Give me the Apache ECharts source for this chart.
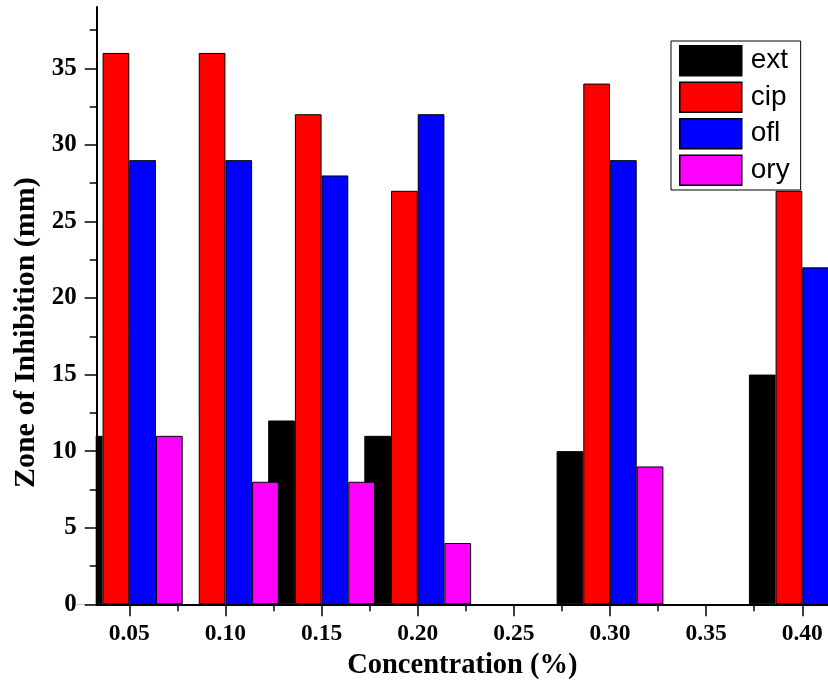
<!DOCTYPE html>
<html>
<head>
<meta charset="utf-8">
<script src="https://cdn.jsdelivr.net/npm/echarts@6/dist/echarts.min.js"></script>
<style>
html,body{margin:0;padding:0;background:#fff;}
#chart{width:828px;height:698px;}
</style>
</head>
<body>
<div id="chart"></div>
<script>
// ---- data ----
const seriesNames = ['ext', 'cip', 'ofl', 'ory'];
const concentrations = [0.05, 0.10, 0.15, 0.20, 0.30, 0.40];
const ext = [11, null, 12, 11, 10, 15];
const cip = [36, 36, 32, 27, 34, 27];
const ofl = [29, 29, 28, 32, 29, 22];
const ory = [11, 8, 8, 4, 9, null];
const xTickValues = [0.05, 0.10, 0.15, 0.20, 0.25, 0.30, 0.35, 0.40];
const xMinorTickValues = [0.075, 0.125, 0.175, 0.225, 0.275, 0.325, 0.375];
const yTickValues = [0, 5, 10, 15, 20, 25, 30, 35];
const yMinorTickValues = [2.5, 7.5, 12.5, 17.5, 22.5, 27.5, 32.5, 37.5];
const xLabel = 'Concentration (%)';
const yLabel = 'Zone of Inhibition (mm)';

const colors = ['#000000', '#ff0000', '#0000ff', '#ff00ff'];
const values = [ext, cip, ofl, ory];

function pairs(arr) {
  const out = [];
  concentrations.forEach((x, i) => { if (arr[i] !== null) out.push([x, arr[i]]); });
  return out;
}

const serif = '"Liberation Serif", "Times New Roman", serif';
const X_MIN = 0.03305, X_MAX = 0.41337;
const Y_MIN = 0, Y_MAX = 39;

const chart = echarts.init(document.getElementById('chart'), null, {renderer: 'canvas'});
chart.setOption({
  animation: false,
  backgroundColor: '#ffffff',
  grid: {left: 96.7, right: 0, top: 7, bottom: 93.7, containLabel: false},
  legend: {
    show: true,
    data: seriesNames,
    orient: 'vertical',
    left: 671, top: 41,
    icon: 'rect',
    itemWidth: 62, itemHeight: 30, itemGap: 5,
    padding: [4, 11, 4, 8],
    backgroundColor: '#ffffff',
    borderColor: '#000000', borderWidth: 1, borderRadius: 0,
    selectedMode: false,
    itemStyle: {borderColor: '#000000', borderWidth: 1.5},
    textStyle: {fontFamily: '"Liberation Sans", Arial, sans-serif', fontSize: 28, color: '#000', lineHeight: 30, padding: [0, 0, 0, 4]}
  },
  xAxis: [{
    type: 'value', min: X_MIN, max: X_MAX, z: 10,
    name: xLabel, nameLocation: 'middle', nameGap: 44,
    nameTextStyle: {fontFamily: serif, fontWeight: 'bold', fontSize: 28.5, color: '#000'},
    axisLine: {show: true, lineStyle: {color: '#000', width: 2}},
    axisTick: {show: true, length: 12, lineStyle: {color: '#000', width: 1.5}, customValues: xTickValues},
    axisLabel: {show: true, margin: 18, customValues: xTickValues, fontFamily: serif, fontWeight: 'bold', fontSize: 23.5, color: '#000',
      formatter: v => Number(v).toFixed(2)},
    splitLine: {show: false}
  }, {
    type: 'value', min: X_MIN, max: X_MAX, position: 'bottom', offset: 0, z: 10,
    axisLine: {show: false},
    axisTick: {show: true, length: 7, lineStyle: {color: '#000', width: 1.5}, customValues: xMinorTickValues},
    axisLabel: {show: false},
    splitLine: {show: false}
  }],
  yAxis: [{
    type: 'value', min: Y_MIN, max: Y_MAX, z: 10,
    name: yLabel, nameLocation: 'middle', nameGap: 55, nameRotate: 90,
    nameTextStyle: {fontFamily: serif, fontWeight: 'bold', fontSize: 30, color: '#000', padding: [0, 54, 0, 0]},
    axisLine: {show: true, lineStyle: {color: '#000', width: 2}},
    axisTick: {show: true, length: 12, lineStyle: {color: '#000', width: 1.5}, customValues: yTickValues},
    axisLabel: {show: true, margin: 20, customValues: yTickValues, fontFamily: serif, fontWeight: 'bold', fontSize: 25, color: '#000'},
    splitLine: {show: false}
  }, {
    type: 'value', min: Y_MIN, max: Y_MAX, position: 'left', offset: 0, z: 10,
    axisLine: {show: false},
    axisTick: {show: true, length: 7, lineStyle: {color: '#000', width: 1.5}, customValues: yMinorTickValues},
    axisLabel: {show: false},
    splitLine: {show: false}
  }],
  series: seriesNames.map((name, k) => ({
    name: name,
    type: 'bar',
    xAxisIndex: 0, yAxisIndex: 0,
    data: pairs(values[k]),
    barWidth: 26.7,
    barGap: '0%',
    clip: true,
    z: 2,
    itemStyle: {color: colors[k], borderColor: '#000000', borderWidth: 1}
  }))
});

// ECharts widens the clip area of bars on a value axis; mask the part left of the y axis.
const origin = chart.convertToPixel({gridIndex: 0}, [X_MIN, Y_MIN]);
chart.setOption({
  graphic: [{
    type: 'rect', silent: true, z: 5,
    shape: {x: 0, y: 0, width: origin[0] - 1, height: origin[1]},
    style: {fill: '#ffffff'}
  }]
});
</script>
</body>
</html>
